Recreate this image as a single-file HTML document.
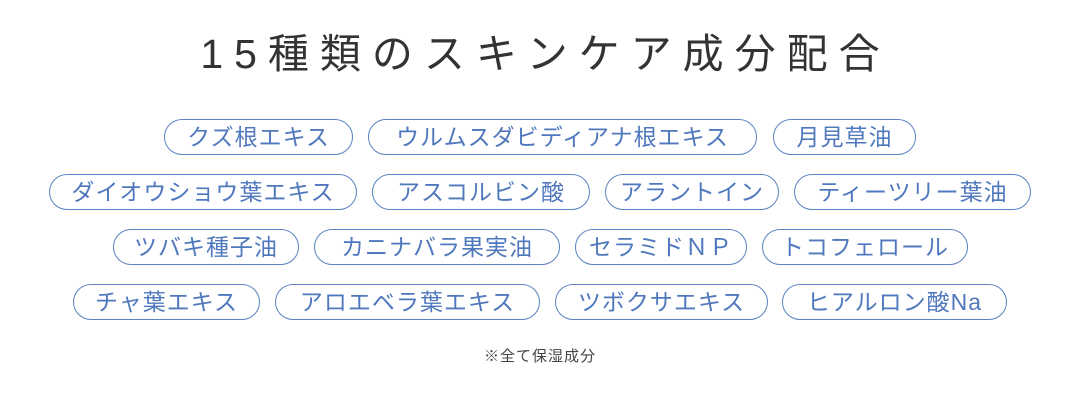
<!DOCTYPE html>
<html><head><meta charset="utf-8"><style>
body{margin:0;width:1080px;height:413px;background:#fff;position:relative;overflow:hidden;font-family:"Liberation Sans","Noto Sans CJK JP",sans-serif}
.t{position:absolute;left:0;width:1080px;top:28px;text-align:center;font-size:41px;letter-spacing:11px;color:#333;line-height:52px;padding-left:11px;box-sizing:border-box}
.p{position:absolute;height:36px;box-sizing:border-box;border:1.5px solid #5b82c2;border-radius:18px;color:#4f78bd;font-size:23px;font-weight:400;letter-spacing:1px;display:flex;align-items:center;justify-content:center;white-space:nowrap;line-height:1;padding-top:1px}
.n{position:absolute;left:0;width:1080px;top:347px;text-align:center;font-size:15px;letter-spacing:1px;color:#444;line-height:20px}
</style></head><body>
<div class="t">15種類のスキンケア成分配合</div>
<div class="p" style="left:164px;top:119px;width:189px">クズ根エキス</div>
<div class="p" style="left:368px;top:119px;width:389px">ウルムスダビディアナ根エキス</div>
<div class="p" style="left:773px;top:119px;width:143px">月見草油</div>
<div class="p" style="left:49px;top:174px;width:308px">ダイオウショウ葉エキス</div>
<div class="p" style="left:372px;top:174px;width:218px">アスコルビン酸</div>
<div class="p" style="left:605px;top:174px;width:174px">アラントイン</div>
<div class="p" style="left:794px;top:174px;width:237px">ティーツリー葉油</div>
<div class="p" style="left:113px;top:229px;width:186px">ツバキ種子油</div>
<div class="p" style="left:314px;top:229px;width:246px">カニナバラ果実油</div>
<div class="p" style="left:575px;top:229px;width:172px">セラミドＮＰ</div>
<div class="p" style="left:762px;top:229px;width:206px">トコフェロール</div>
<div class="p" style="left:73px;top:284px;width:187px">チャ葉エキス</div>
<div class="p" style="left:275px;top:284px;width:265px">アロエベラ葉エキス</div>
<div class="p" style="left:555px;top:284px;width:213px">ツボクサエキス</div>
<div class="p" style="left:782px;top:284px;width:225px">ヒアルロン酸Na</div>
<div class="n">※全て保湿成分</div>
</body></html>
